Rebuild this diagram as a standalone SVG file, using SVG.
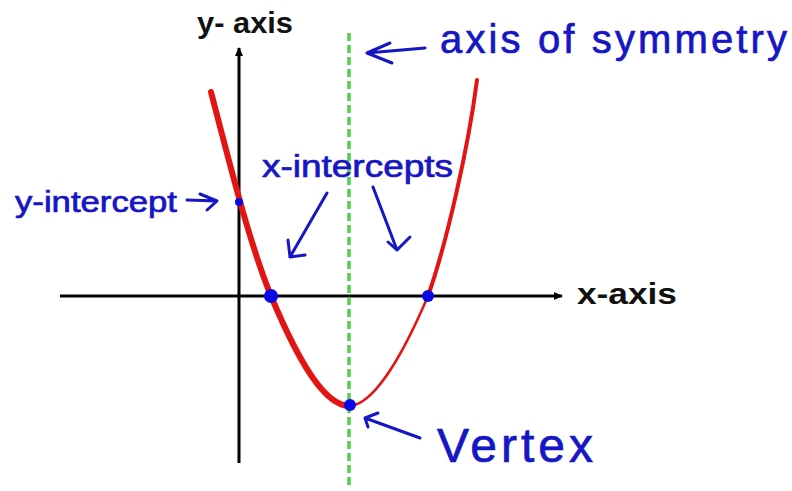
<svg xmlns="http://www.w3.org/2000/svg" width="792" height="491" viewBox="0 0 792 491">
<style>
.lbl{font-family:"Liberation Sans","DejaVu Sans",sans-serif;fill:#1616c4;stroke:#1616c4;stroke-width:0.7}
.blk{font-family:"Liberation Sans","DejaVu Sans",sans-serif;fill:#111;font-weight:bold}
.arr{stroke:#1616c4;stroke-width:3;fill:none;stroke-linecap:round;stroke-linejoin:round}
.axis{stroke:#000;stroke-width:3;fill:none}
.dot{fill:#0a0ae6}
</style>
<defs>
<marker id="ah" markerWidth="10" markerHeight="10" refX="8" refY="5" orient="auto" markerUnits="userSpaceOnUse">
<path d="M0,1 L9,5 L0,9 Z" fill="#000"/>
</marker>
</defs>
<rect width="792" height="491" fill="#fff"/>
<g id="axes">
<line class="axis" x1="239" y1="463" x2="239" y2="48" marker-end="url(#ah)"/>
<line class="axis" x1="60" y1="296" x2="562" y2="296" marker-end="url(#ah)"/>
</g>
<g id="symmetry-line">
<line x1="349" y1="33" x2="349" y2="487" stroke="#4fcf4f" stroke-width="3.5" stroke-dasharray="8 4"/>
</g>
<g id="parabola">
<path d="M211,92 C230,165 250,245 271,296 C300,365 325,405 349,406" stroke="#e31414" stroke-width="6" fill="none" stroke-linecap="round"/>
<path d="M349,406 C375,405 405,350 428,296" stroke="#e31414" stroke-width="2.5" fill="none" stroke-linecap="round"/>
<path d="M428,296 C446,245 468,150 477,80" stroke="#e31414" stroke-width="4" fill="none" stroke-linecap="round"/>
</g>
<g id="points">
<circle class="dot" cx="239" cy="202" r="4"/>
<circle class="dot" cx="271" cy="296" r="7"/>
<circle class="dot" cx="428" cy="296" r="6"/>
<circle class="dot" cx="350" cy="405" r="6"/>
</g>
<g id="connectors">
<path class="arr" d="M425,48 L367,53 M390,43 L367,53 L392,63"/>
<path class="arr" d="M187,200 L217,201 M200,194 L217,201 L207,210"/>
<path class="arr" d="M327,193 L290,257 M288,240 L290,257 L305,255"/>
<path class="arr" d="M373,187 L397,250 M388,242 L397,250 L410,237"/>
<path class="arr" d="M420,438 L365,418 M378,413 L365,418 L368,427"/>
</g>
<g id="label-y-axis"><text class="blk" x="197" y="33" font-size="30" textLength="96" lengthAdjust="spacingAndGlyphs">y- axis</text></g>
<g id="label-x-axis"><text class="blk" x="577" y="304" font-size="30" textLength="100" lengthAdjust="spacingAndGlyphs">x-axis</text></g>
<g id="label-symmetry"><text class="lbl" x="440" y="53" font-size="40" textLength="347" lengthAdjust="spacing">axis of symmetry</text></g>
<g id="label-y-intercept"><text class="lbl" x="15" y="212" font-size="29" textLength="162" lengthAdjust="spacingAndGlyphs">y-intercept</text></g>
<g id="label-x-intercepts"><text class="lbl" x="262" y="177" font-size="31" textLength="191" lengthAdjust="spacingAndGlyphs">x-intercepts</text></g>
<g id="label-vertex"><text class="lbl" x="437" y="462" font-size="48" textLength="156" lengthAdjust="spacing">Vertex</text></g>
</svg>
